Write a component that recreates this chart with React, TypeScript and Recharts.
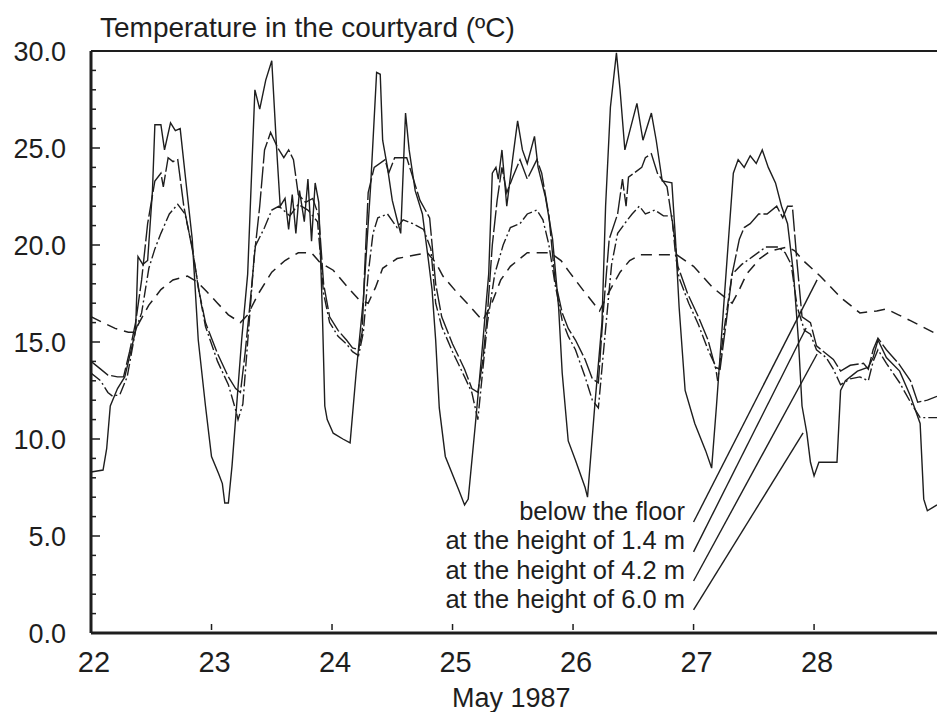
import React from 'react';
import { LineChart, Line, XAxis, YAxis, ReferenceLine } from 'recharts';

// [day of May 1987, temperature °C]
const floorSeries = [
  [22.0, 16.3], [22.1, 16.0], [22.2, 15.7], [22.31, 15.5], [22.36, 15.5], [22.4, 16.0],
  [22.48, 16.9], [22.58, 17.7], [22.68, 18.2], [22.8, 18.4], [22.88, 18.1], [22.96, 17.6],
  [23.05, 17.0], [23.14, 16.4], [23.24, 16.0], [23.3, 16.4], [23.39, 17.5], [23.5, 18.6],
  [23.61, 19.2], [23.72, 19.6], [23.83, 19.6], [23.9, 19.1], [24.01, 18.7], [24.12, 17.9],
  [24.22, 17.2], [24.3, 17.0], [24.36, 17.8], [24.42, 18.8], [24.54, 19.3], [24.7, 19.5],
  [24.79, 19.6], [24.86, 19.1], [24.92, 18.4], [25.03, 17.6], [25.15, 16.8], [25.25, 16.1],
  [25.32, 16.9], [25.4, 18.2], [25.48, 18.9], [25.62, 19.6], [25.81, 19.6], [25.9, 19.2],
  [25.97, 18.6], [26.08, 17.7], [26.17, 17.0], [26.22, 16.6], [26.3, 17.6], [26.39, 18.6],
  [26.47, 19.2], [26.56, 19.5], [26.86, 19.5], [27.0, 18.9], [27.16, 17.8], [27.28, 17.2],
  [27.32, 17.0], [27.38, 17.7], [27.44, 18.5], [27.55, 19.3], [27.64, 19.7], [27.78, 19.9],
  [27.84, 19.7], [27.91, 19.2], [28.05, 18.4], [28.22, 17.3], [28.38, 16.5], [28.52, 16.6],
  [28.6, 16.7], [28.7, 16.4], [28.8, 16.1], [29.02, 15.4],
];

const h14Series = [
  [22.0, 13.4], [22.08, 13.0], [22.14, 12.4], [22.18, 12.2], [22.24, 12.3], [22.3, 13.2],
  [22.37, 15.6], [22.42, 16.5], [22.48, 18.8], [22.53, 19.8], [22.58, 20.6], [22.65, 21.6],
  [22.72, 22.1], [22.78, 21.6], [22.84, 19.9], [22.89, 17.8], [22.95, 15.8], [23.05, 14.0],
  [23.14, 12.8], [23.2, 11.5], [23.22, 11.0], [23.26, 11.8], [23.3, 15.0], [23.36, 19.9],
  [23.44, 20.9], [23.5, 21.8], [23.56, 22.0], [23.65, 21.5], [23.72, 22.1], [23.8, 21.8],
  [23.88, 21.2], [23.93, 17.5], [23.98, 16.0], [24.05, 15.3], [24.12, 14.9], [24.17, 14.5],
  [24.22, 14.3], [24.26, 15.5], [24.3, 18.5], [24.34, 20.6], [24.38, 21.4], [24.46, 21.6],
  [24.54, 20.9], [24.59, 21.3], [24.67, 21.1], [24.76, 20.8], [24.82, 19.8], [24.86, 17.0],
  [24.91, 15.8], [25.0, 14.5], [25.1, 13.2], [25.16, 12.4], [25.21, 11.0], [25.25, 13.5],
  [25.29, 16.0], [25.35, 18.5], [25.42, 20.0], [25.48, 20.9], [25.56, 21.1], [25.62, 21.6],
  [25.7, 21.8], [25.75, 21.3], [25.8, 20.0], [25.85, 18.0], [25.91, 16.1], [25.96, 15.3],
  [26.02, 14.6], [26.1, 13.2], [26.16, 12.0], [26.21, 11.6], [26.26, 15.0], [26.32, 19.0],
  [26.37, 20.6], [26.44, 21.2], [26.49, 21.6], [26.55, 22.0], [26.6, 21.6], [26.68, 21.8],
  [26.75, 21.5], [26.82, 21.5], [26.85, 19.5], [26.88, 18.3], [26.96, 17.0], [27.04, 15.9],
  [27.12, 14.6], [27.18, 13.8], [27.2, 13.0], [27.25, 15.5], [27.32, 18.5], [27.4, 19.0],
  [27.49, 19.4], [27.6, 19.9], [27.7, 19.9], [27.76, 19.6], [27.81, 19.0], [27.86, 16.8],
  [27.92, 15.6], [27.97, 15.4], [28.02, 14.6], [28.1, 14.2], [28.16, 13.6], [28.22, 12.8],
  [28.3, 13.1], [28.38, 13.2], [28.45, 13.0], [28.49, 14.0], [28.53, 14.6], [28.6, 13.9],
  [28.71, 12.9], [28.8, 11.9], [28.88, 11.1], [29.02, 11.1],
];

const h42Series = [
  [22.0, 14.0], [22.08, 13.6], [22.14, 13.3], [22.22, 13.2], [22.27, 13.2], [22.32, 14.5],
  [22.37, 16.0], [22.42, 18.2], [22.47, 21.1], [22.53, 23.3], [22.58, 23.7], [22.6, 23.0],
  [22.64, 24.5], [22.68, 24.3], [22.72, 24.4], [22.77, 22.0], [22.84, 19.8], [22.9, 17.5],
  [22.95, 16.0], [23.05, 14.4], [23.14, 13.2], [23.2, 12.6], [23.24, 12.4], [23.28, 14.5],
  [23.32, 17.0], [23.36, 19.7], [23.4, 22.0], [23.44, 24.9], [23.49, 25.8], [23.55, 25.0],
  [23.6, 24.5], [23.64, 24.9], [23.68, 24.4], [23.72, 22.6], [23.78, 22.2], [23.84, 22.4],
  [23.89, 21.5], [23.93, 18.0], [23.98, 16.3], [24.05, 15.6], [24.12, 15.1], [24.17, 14.7],
  [24.22, 14.6], [24.25, 15.5], [24.27, 18.6], [24.3, 22.7], [24.35, 24.0], [24.44, 24.4],
  [24.47, 23.7], [24.52, 24.5], [24.62, 24.5], [24.67, 23.5], [24.73, 22.3], [24.81, 21.4],
  [24.86, 18.0], [24.91, 16.3], [25.0, 14.9], [25.1, 13.6], [25.16, 12.6], [25.21, 12.4],
  [25.25, 14.0], [25.29, 16.5], [25.33, 20.0], [25.37, 22.3], [25.41, 24.0], [25.45, 22.7],
  [25.5, 23.5], [25.56, 24.4], [25.62, 23.4], [25.7, 24.4], [25.74, 23.7], [25.8, 21.5],
  [25.85, 18.2], [25.91, 16.5], [25.96, 15.7], [26.02, 15.1], [26.1, 14.1], [26.16, 13.1],
  [26.21, 12.9], [26.25, 16.5], [26.3, 20.3], [26.37, 21.6], [26.41, 23.4], [26.44, 22.0],
  [26.46, 23.5], [26.57, 24.0], [26.6, 24.5], [26.65, 24.7], [26.7, 23.7], [26.78, 23.0],
  [26.84, 20.5], [26.87, 18.9], [26.95, 17.5], [27.04, 16.3], [27.12, 15.1], [27.18, 13.7],
  [27.22, 13.6], [27.27, 16.0], [27.32, 18.5], [27.38, 20.3], [27.42, 20.9], [27.47, 21.1],
  [27.54, 21.6], [27.61, 21.6], [27.69, 22.0], [27.74, 21.4], [27.78, 22.0], [27.82, 22.0],
  [27.86, 19.0], [27.9, 16.3], [27.97, 16.0], [28.02, 14.8], [28.08, 14.5], [28.16, 14.1],
  [28.22, 13.5], [28.3, 13.8], [28.41, 13.9], [28.45, 13.6], [28.49, 14.6], [28.53, 15.2],
  [28.6, 14.6], [28.7, 13.9], [28.8, 13.0], [28.86, 11.9], [28.94, 12.0], [29.02, 12.2],
];

const h60Series = [
  [22.0, 8.3], [22.1, 8.4], [22.13, 9.5], [22.16, 11.7], [22.22, 12.6], [22.28, 13.2],
  [22.33, 14.5], [22.37, 15.6], [22.39, 19.4], [22.43, 19.0], [22.47, 19.2], [22.51, 22.8],
  [22.53, 26.2], [22.58, 26.2], [22.61, 24.9], [22.66, 26.3], [22.7, 25.9], [22.74, 26.0],
  [22.78, 23.7], [22.84, 20.3], [22.89, 15.1], [22.95, 11.7], [23.0, 9.1], [23.06, 8.2],
  [23.09, 7.7], [23.11, 6.7], [23.14, 6.7], [23.17, 8.6], [23.25, 15.1], [23.3, 18.5],
  [23.36, 28.0], [23.4, 27.0], [23.45, 28.5], [23.5, 29.5], [23.54, 25.0], [23.57, 22.0],
  [23.61, 22.4], [23.64, 20.8], [23.67, 22.6], [23.7, 20.6], [23.73, 22.8], [23.77, 21.2],
  [23.8, 23.4], [23.83, 20.2], [23.86, 23.2], [23.89, 22.2], [23.92, 16.5], [23.94, 11.7],
  [23.96, 11.0], [24.01, 10.3], [24.09, 10.0], [24.15, 9.8], [24.2, 13.4], [24.26, 17.2],
  [24.32, 23.0], [24.37, 28.9], [24.4, 28.8], [24.42, 25.4], [24.46, 24.0], [24.5, 22.3],
  [24.54, 21.3], [24.57, 20.6], [24.61, 26.8], [24.64, 24.9], [24.69, 22.8], [24.75, 21.6],
  [24.8, 19.2], [24.83, 17.7], [24.86, 15.1], [24.89, 11.6], [24.94, 9.1], [25.05, 7.4],
  [25.1, 6.6], [25.13, 6.9], [25.19, 10.8], [25.24, 14.2], [25.3, 18.5], [25.33, 23.7],
  [25.36, 24.0], [25.38, 23.4], [25.41, 24.9], [25.45, 22.0], [25.5, 24.5], [25.54, 26.4],
  [25.58, 24.9], [25.62, 24.2], [25.68, 25.6], [25.71, 24.0], [25.77, 22.5], [25.83, 20.3],
  [25.88, 16.8], [25.91, 13.4], [25.96, 9.9], [26.02, 8.9], [26.1, 7.5], [26.12, 7.0],
  [26.18, 11.7], [26.24, 16.0], [26.27, 22.0], [26.31, 27.1], [26.36, 29.9], [26.39, 28.0],
  [26.43, 24.9], [26.48, 26.1], [26.53, 27.3], [26.58, 25.4], [26.65, 26.8], [26.69, 25.4],
  [26.74, 23.3], [26.82, 23.2], [26.85, 20.3], [26.88, 16.8], [26.93, 12.5], [27.01, 10.8],
  [27.1, 9.4], [27.15, 8.5], [27.19, 11.7], [27.24, 16.0], [27.29, 20.3], [27.33, 23.7],
  [27.37, 24.4], [27.42, 24.0], [27.47, 24.6], [27.52, 24.2], [27.57, 24.9], [27.62, 24.0],
  [27.68, 23.2], [27.73, 22.0], [27.78, 21.1], [27.83, 18.5], [27.87, 15.1], [27.9, 11.7],
  [27.94, 10.3], [27.97, 8.8], [28.0, 8.1], [28.04, 8.8], [28.19, 8.8], [28.22, 12.5],
  [28.26, 13.0], [28.3, 13.2], [28.36, 13.5], [28.45, 13.7], [28.49, 14.2], [28.53, 15.1],
  [28.6, 14.2], [28.71, 13.5], [28.8, 12.2], [28.88, 10.8], [28.91, 6.9], [28.94, 6.3],
  [29.02, 6.6],
];

const dayTicks = [22, 23, 24, 25, 26, 27, 28];
const tempTicks = Array.from({ length: 31 }, (_, i) => i);

const legendLabels = [
  'below the floor',
  'at the height of 1.4 m',
  'at the height of 4.2 m',
  'at the height of 6.0 m',
];

// leader lines from each legend label to its curve: [day, temp] -> [day, temp]
const leaderLines = [
  [[27.0, 5.72], [28.025, 18.2]],
  [[27.0, 4.18], [27.934, 15.72]],
  [[27.0, 2.68], [28.025, 14.38]],
  [[27.0, 1.19], [27.909, 10.31]],
];

const INK = '#1e1e1e';
const FONT = '"Liberation Sans", Arial, Helvetica, sans-serif';
const PLOT_LEFT = 91;

const toPoints = (s: number[][]) => s.map(([t, v]) => ({ t, v }));

const YTick = (props: any) => {
  const { y, payload } = props;
  const major = payload.value % 5 === 0;
  return (
    <g>
      <line x1={PLOT_LEFT} x2={PLOT_LEFT + (major ? 9 : 5)} y1={y} y2={y} stroke={INK} strokeWidth={1.5} />
      {major && (
        <text x={66} y={y + 10} textAnchor="end" fontSize={27} fill={INK} fontFamily={FONT}>
          {payload.value.toFixed(1)}
        </text>
      )}
    </g>
  );
};

const XTick = (props: any) => {
  const { x, payload } = props;
  const axisY = 633;
  return (
    <g>
      <line x1={x} x2={x} y1={axisY - 9} y2={axisY - 3} stroke={INK} strokeWidth={1.5} />
      <text x={x + 3} y={axisY + 39} textAnchor="middle" fontSize={29} fill={INK} fontFamily={FONT}>
        {payload.value}
      </text>
    </g>
  );
};

export default function App() {
  return (
    <div style={{ position: 'absolute', left: 0, top: 0, width: 937, height: 712, background: '#fff', overflow: 'hidden' }}>
      <LineChart width={937} height={712} margin={{ top: 51, right: 0, bottom: 0, left: 0 }}>
        <XAxis
          type="number"
          dataKey="t"
          domain={[22, 29.02]}
          ticks={dayTicks}
          allowDataOverflow
          height={79}
          tickSize={0}
          tickMargin={0}
          tick={<XTick />}
          tickLine={false}
          axisLine={{ stroke: INK, strokeWidth: 3 }}
        />
        <YAxis
          type="number"
          domain={[0, 30]}
          ticks={tempTicks}
          interval={0}
          width={PLOT_LEFT}
          tickSize={0}
          tickMargin={0}
          tick={<YTick />}
          tickLine={false}
          axisLine={{ stroke: INK, strokeWidth: 3 }}
        />
        <ReferenceLine y={30} stroke={INK} strokeWidth={2} />
        <Line data={toPoints(floorSeries)} dataKey="v" type="linear" stroke={INK} strokeWidth={1.5}
          strokeDasharray="11 7" dot={false} isAnimationActive={false} />
        <Line data={toPoints(h14Series)} dataKey="v" type="linear" stroke={INK} strokeWidth={1.4}
          strokeDasharray="12 3 2 3" dot={false} isAnimationActive={false} />
        <Line data={toPoints(h42Series)} dataKey="v" type="linear" stroke={INK} strokeWidth={1.4}
          strokeDasharray="22 3" dot={false} isAnimationActive={false} />
        <Line data={toPoints(h60Series)} dataKey="v" type="linear" stroke={INK} strokeWidth={1.4}
          dot={false} isAnimationActive={false} />
        {leaderLines.map((seg, i) => (
          <ReferenceLine
            key={i}
            segment={[{ x: seg[0][0], y: seg[0][1] }, { x: seg[1][0], y: seg[1][1] }]}
            stroke={INK}
            strokeWidth={1.4}
          />
        ))}
      </LineChart>
      <svg width={937} height={712} style={{ position: 'absolute', left: 0, top: 0, pointerEvents: 'none' }}>
        <text x={100} y={37} fontSize={28} fill={INK} fontFamily={FONT}>
          Temperature in the courtyard (ºC)
        </text>
        <text x={452} y={707} fontSize={27} fill={INK} fontFamily={FONT}>
          May 1987
        </text>
        {legendLabels.map((label, i) => (
          <text key={label} x={685} y={520 + i * 29.3} textAnchor="end" fontSize={25.5} fill={INK} fontFamily={FONT}>
            {label}
          </text>
        ))}
      </svg>
    </div>
  );
}
